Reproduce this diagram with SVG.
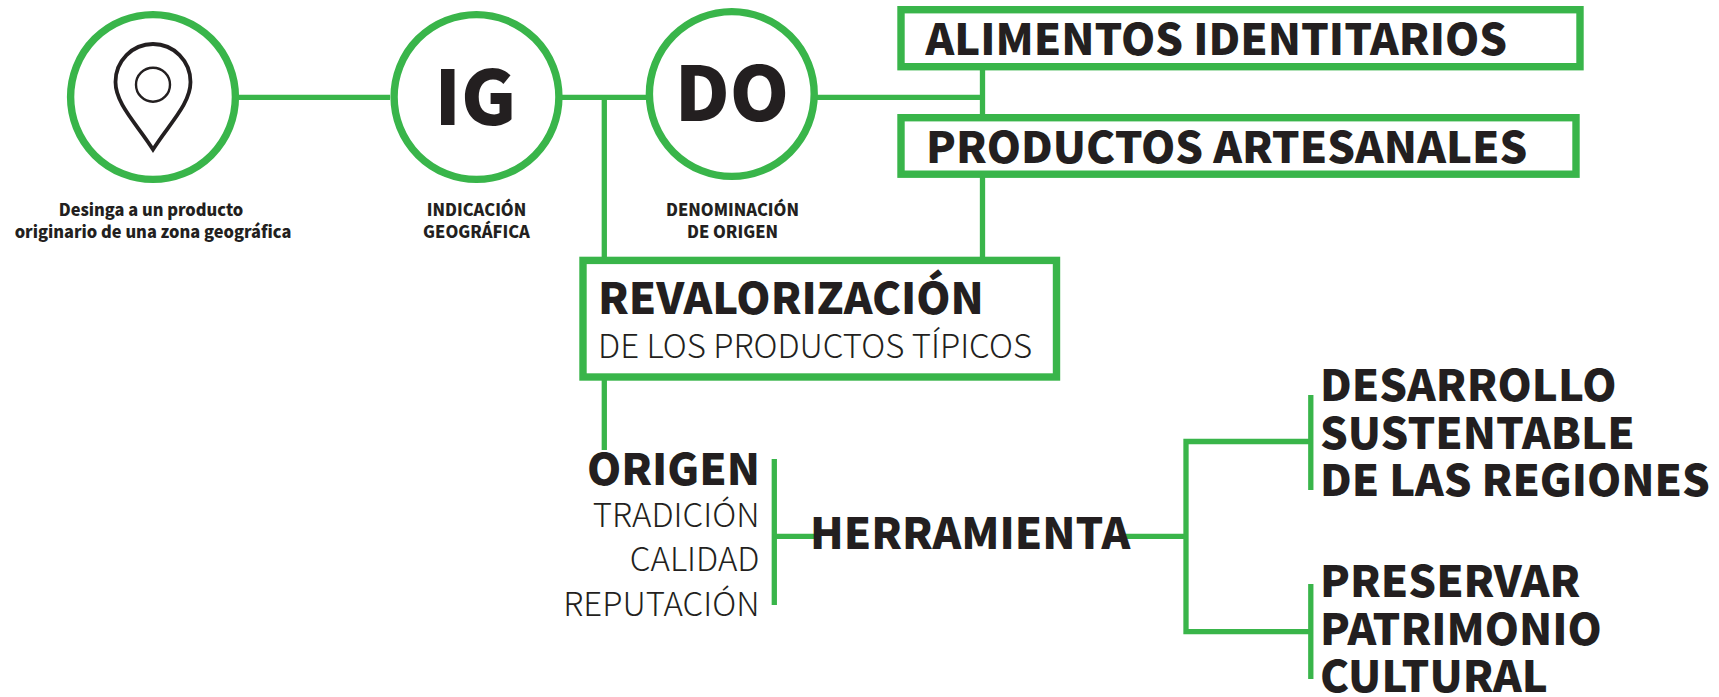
<svg xmlns="http://www.w3.org/2000/svg" width="1719" height="697" viewBox="0 0 1719 697">
<style>
.c{fill:#fff;stroke:#39b54a;stroke-width:7.4}
.b{fill:#fff;stroke:#39b54a;stroke-width:7.4}
.l{fill:none;stroke:#39b54a;stroke-width:5.3}
text{font-family:"Noto Sans CJK SC","Source Sans Pro","Noto Sans",sans-serif;fill:#231f20}
.h{font-weight:900;font-size:43.6px}
.t{font-weight:300;font-size:33px}
.s{font-weight:900;font-size:16.4px;text-anchor:middle}
.g{font-weight:900;font-size:75.5px}
.e{text-anchor:end}
</style>
<g id="connectors">
<path class="l" d="M236 97.3H390M559 97.3H646M815 97.3H982.5M604.3 97.3V258M982.5 68V116M982.5 176V258M604.3 378V450"/>
<path class="l" d="M774.3 459V605M774.3 536.3H820M1120 536.3H1186M1310.8 395V490M1310.8 584V679M1310.8 441.5H1186V631.7H1310.8"/>
</g>
<g id="node-zona">
<circle class="c" cx="153" cy="97" r="82.4"/>
<path d="M153 149.5 C137 124 115.5 104 115.5 82 A37.5 38 0 0 1 190.5 82 C190.5 104 169 124 153 149.5Z" fill="#fff" stroke="#231f20" stroke-width="3.8" stroke-linejoin="miter"/>
<circle cx="153" cy="84.7" r="17" fill="none" stroke="#231f20" stroke-width="2.4"/>
<text class="s" x="151" y="216">Desinga a un producto</text>
<text class="s" x="153" y="238">originario de una zona geográfica</text>
</g>
<g id="node-ig">
<circle class="c" cx="476.5" cy="97" r="82.4"/>
<text class="g" x="475.5" y="125" text-anchor="middle">IG</text>
<text class="s" x="476.5" y="216">INDICACIÓN</text>
<text class="s" x="476.5" y="238">GEOGRÁFICA</text>
</g>
<g id="node-do">
<circle class="c" cx="731.8" cy="94" r="82.4"/>
<text class="g" x="732" y="121" text-anchor="middle">DO</text>
<text class="s" x="732.5" y="216">DENOMINACIÓN</text>
<text class="s" x="732.5" y="238">DE ORIGEN</text>
</g>
<g id="node-alimentos">
<rect class="b" x="901" y="9.7" width="679" height="57"/>
<text class="h" x="925.5" y="55">ALIMENTOS IDENTITARIOS</text>
</g>
<g id="node-artesanales">
<rect class="b" x="901" y="117.7" width="675" height="56.5"/>
<text class="h" x="926" y="162.5">PRODUCTOS ARTESANALES</text>
</g>
<g id="node-revalorizacion">
<rect class="b" x="583" y="260.4" width="473.5" height="116.6"/>
<text class="h" x="598" y="314">REVALORIZACIÓN</text>
<text class="t" x="598" y="358">DE LOS PRODUCTOS TÍPICOS</text>
</g>
<g id="node-origen">
<text class="h e" x="760" y="485">ORIGEN</text>
<text class="t e" x="759.5" y="527">TRADICIÓN</text>
<text class="t e" x="759.5" y="571">CALIDAD</text>
<text class="t e" x="759.5" y="615.5">REPUTACIÓN</text>
</g>
<g id="node-herramienta">
<text class="h" x="810" y="548.7">HERRAMIENTA</text>
</g>
<g id="node-desarrollo">
<text class="h" x="1320" y="401">DESARROLLO</text>
<text class="h" x="1320" y="448.7">SUSTENTABLE</text>
<text class="h" x="1320" y="496">DE LAS REGIONES</text>
</g>
<g id="node-preservar">
<text class="h" x="1320" y="597">PRESERVAR</text>
<text class="h" x="1320" y="645">PATRIMONIO</text>
<text class="h" x="1320" y="692">CULTURAL</text>
</g>
</svg>
